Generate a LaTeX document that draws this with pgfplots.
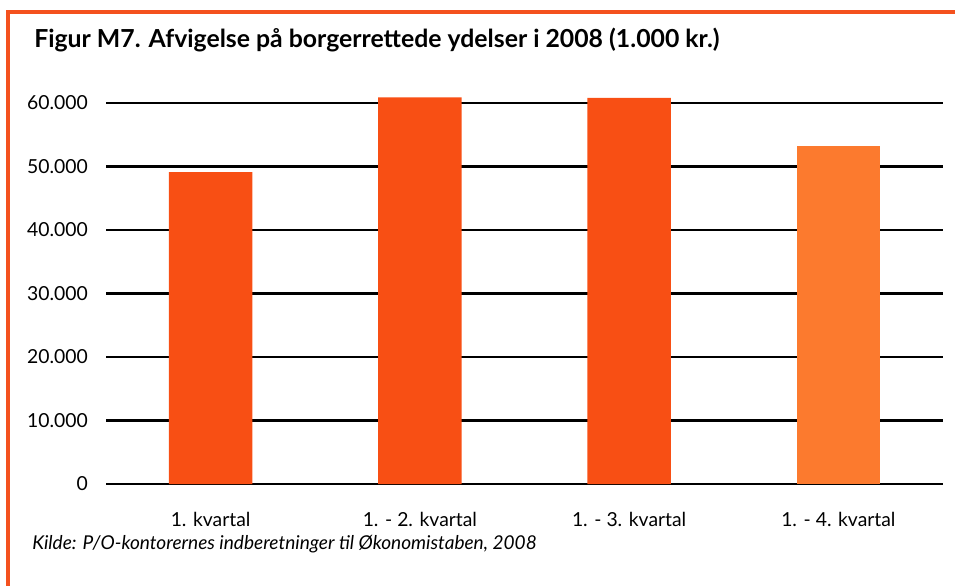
\documentclass[border=0pt]{standalone}
\usepackage{fontspec}
\setmainfont{Lato}
\usepackage{pgfplots}
\pgfplotsset{compat=1.18}
\definecolor{barred}{HTML}{F84F14}
\definecolor{barlight}{HTML}{FC7A2E}
\definecolor{frameor}{HTML}{F4511E}

\begin{document}
\begin{tikzpicture}
% page: 955 x 585 px, 1px = 0.75pt
\path[use as bounding box] (0,0) rectangle (716.25pt,438.75pt);
\draw[frameor, line width=2.4pt] (6pt,-2pt) -- (6pt,429.75pt) -- (720pt,429.75pt);

\node[anchor=base west, inner sep=0pt, font=\bfseries\fontsize{18.6}{21}\selectfont]
  at (25.5pt,403pt) {Figur M7. Afvigelse på borgerrettede ydelser i 2008 (1.000 kr.)};

\begin{axis}[
    at={(79.5pt,75.75pt)},
    anchor=south west,
    scale only axis,
    width=627.75pt,
    height=290.5pt,
    ybar,
    bar width=0.4,
    xmin=-0.5, xmax=3.5,
    ymin=0, ymax=61000,
    xtick={0,1,2,3},
    xticklabels={1. kvartal,1. - 2. kvartal,1. - 3. kvartal,1. - 4. kvartal},
    ytick={0,10000,20000,30000,40000,50000,60000},
    scaled y ticks=false,
    /pgf/number format/.cd, 1000 sep={.}, assume math mode=true, /pgfplots/.cd,
    axis line style={draw=none},
    major tick length=0pt,
    ymajorgrids=true,
    grid style={black, line width=1.6pt},
    tick label style={font=\fontsize{14.5}{17}\selectfont, inner sep=0pt},
    yticklabel style={anchor=east, xshift=-13.5pt},
    xticklabel style={anchor=base, yshift=-31.5pt},
]
\addplot[fill=barred, draw=none, bar shift=0pt] coordinates {(0,49100) (1,60900) (2,60800)};
\addplot[fill=barlight, draw=none, bar shift=0pt] coordinates {(3,53200)};
\end{axis}

\node[anchor=base west, inner sep=0pt, font=\itshape\fontsize{14.3}{17}\selectfont]
  at (24pt,27pt) {Kilde: P/O-kontorernes indberetninger til Økonomistaben, 2008};
\end{tikzpicture}
\end{document}
